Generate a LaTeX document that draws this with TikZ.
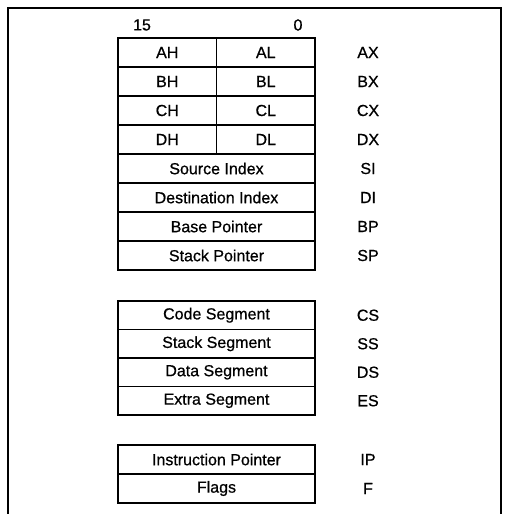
\documentclass[tikz,border=0pt]{standalone}
\usepackage{fontspec}
\setmainfont{Liberation Sans}
\newfontfamily\regfont[FakeBold=0.7]{Liberation Sans}
\usetikzlibrary{positioning}
\tikzset{
  reg/.style={draw, line width=1.6pt, minimum width=197pt, minimum height=29pt,
    inner sep=0pt, outer sep=0pt, font=\regfont\fontsize{16}{19}\selectfont},
  half/.style={reg, minimum width=98.5pt},
  regname/.style={inner sep=0pt, font=\regfont\fontsize{16}{19}\selectfont}
}

\begin{document}
\begin{tikzpicture}[x=1pt,y=-1pt]
  \useasboundingbox (0,0) rectangle (504,514);
  % frame, open at the bottom
  \draw[line width=2.4pt] (8,514) -- (8,8) -- (501,8) -- (501,514);
  \coordinate (lab) at (368,0);

  % bit numbers
  \node[regname] (b15) at (142,25) {15};
  \node[regname] (b0) at (298,25) {0};

  % general registers
  \node[half, anchor=north west] (ah) at (118,38) {AH};
  \node[half, right=0pt of ah] (al) {AL};
  \node[half, below=0pt of ah] (bh) {BH};
  \node[half, below=0pt of al] (bl) {BL};
  \node[half, below=0pt of bh] (ch) {CH};
  \node[half, below=0pt of bl] (cl) {CL};
  \node[half, below=0pt of ch] (dh) {DH};
  \node[half, below=0pt of cl] (dl) {DL};
  \node[reg, anchor=north west] (si) at (dh.south west) {Source Index};
  \node[reg, below=0pt of si] (di) {Destination Index};
  \node[reg, below=0pt of di] (bp) {Base Pointer};
  \node[reg, below=0pt of bp] (sp) {Stack Pointer};

  % segment registers
  \node[reg, anchor=north west, minimum height=28.5pt] (cs) at (118,301) {Code Segment};
  \node[reg, below=0pt of cs, minimum height=28.5pt] (ss) {Stack Segment};
  \node[reg, below=0pt of ss, minimum height=28.5pt] (ds) {Data Segment};
  \node[reg, below=0pt of ds, minimum height=28.5pt] (es) {Extra Segment};

  % instruction pointer and flags
  \node[reg, anchor=north west] (ip) at (118,445) {Instruction Pointer};
  \node[reg, below=0pt of ip] (fl) {Flags};

  % register names
  \node[regname] (ax) at (al -| lab) {AX};
  \node[regname] (bx) at (bl -| lab) {BX};
  \node[regname] (cx) at (cl -| lab) {CX};
  \node[regname] (dx) at (dl -| lab) {DX};
  \node[regname] (nsi) at (si -| lab) {SI};
  \node[regname] (ndi) at (di -| lab) {DI};
  \node[regname] (nbp) at (bp -| lab) {BP};
  \node[regname] (nsp) at (sp -| lab) {SP};
  \node[regname] (ncs) at (cs -| lab) {CS};
  \node[regname] (nss) at (ss -| lab) {SS};
  \node[regname] (nds) at (ds -| lab) {DS};
  \node[regname] (nes) at (es -| lab) {ES};
  \node[regname] (nip) at (ip -| lab) {IP};
  \node[regname] (nfl) at (fl -| lab) {F};
\end{tikzpicture}
\end{document}
